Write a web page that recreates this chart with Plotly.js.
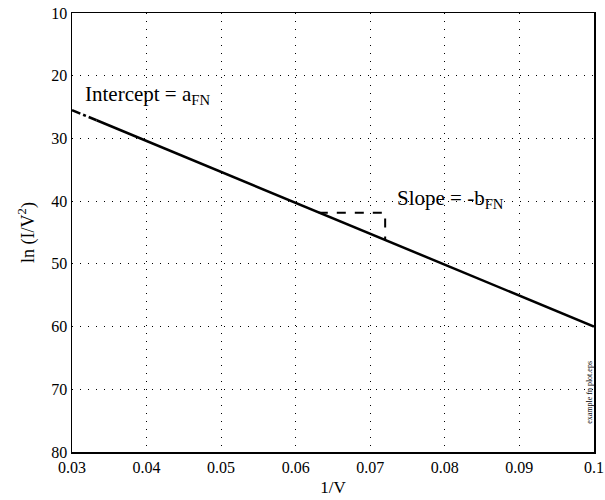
<!DOCTYPE html>
<html><head><meta charset="utf-8">
<script src="https://cdn.plot.ly/plotly-3.0.1.min.js"></script>
<style>body{margin:0;background:#fff}#c{width:605px;height:500px}</style>
</head><body><div id="c"></div>
<script>
// Fowler-Nordheim line data
var extrapX = [0.03, 0.0333];
var extrapY = [25.5, 27.1];
var fitX = [0.0333, 0.1];
var fitY = [27.1, 60.0];
var slopeX = [0.0631, 0.0720, 0.0720];
var slopeY = [41.85, 41.85, 46.3];
var xTicks = [0.03, 0.04, 0.05, 0.06, 0.07, 0.08, 0.09, 0.1];
var xTickText = ["0.03", "0.04", "0.05", "0.06", "0.07", "0.08", "0.09", "0.1"];
var yTicks = [10, 20, 30, 40, 50, 60, 70, 80];

var font = "Liberation Serif, Times New Roman, serif";
var traces = [
  {x: extrapX, y: extrapY, mode: "lines", line: {color: "#000", width: 2.5, dash: "dashdot"}, hoverinfo: "skip"},
  {x: fitX, y: fitY, mode: "lines", line: {color: "#000", width: 2.5}, hoverinfo: "skip"},
  {x: slopeX, y: slopeY, mode: "lines", line: {color: "#000", width: 2, dash: "dash"}, hoverinfo: "skip"}
];
var layout = {
  width: 605, height: 500,
  margin: {l: 72, r: 11, t: 13, b: 48},
  paper_bgcolor: "#fff", plot_bgcolor: "#fff",
  showlegend: false,
  font: {family: font, color: "#000", size: 16},
  xaxis: {
    range: [0.03, 0.10001], tickvals: xTicks, ticktext: xTickText,
    showgrid: true, gridcolor: "#000", griddash: "1px,7px", gridwidth: 1.2,
    zeroline: false, showline: true, linecolor: "#000", linewidth: 1.5, mirror: true,
    ticks: "", tickfont: {family: font, size: 16}, ticklabeloverflow: "allow",
    title: {text: "1/V", font: {family: font, size: 17}, standoff: 6}
  },
  yaxis: {
    range: [80, 10], tickvals: yTicks,
    showgrid: true, gridcolor: "#000", griddash: "1px,7px", gridwidth: 1.2,
    zeroline: false, showline: true, linecolor: "#000", linewidth: 1.5, mirror: true,
    ticks: "", tickfont: {family: font, size: 16},
    title: {text: "ln (I/V<sup>2</sup>)", font: {family: font, size: 18}, standoff: 12}
  },
  annotations: [
    {x: 0.0315, y: 23.0, xref: "x", yref: "y", xanchor: "left", yanchor: "middle", showarrow: false,
     text: "Intercept = a<sub>FN</sub>", font: {family: font, size: 21}},
    {x: 0.0733, y: 39.7, xref: "x", yref: "y", xanchor: "left", yanchor: "middle", showarrow: false,
     text: "Slope = -b<sub>FN</sub>", font: {family: font, size: 21}},
    {x: 0.0994, y: 70.5, xref: "x", yref: "y", xanchor: "center", yanchor: "middle", showarrow: false,
     text: "example fn plot.eps", textangle: -90, font: {family: font, size: 8}}
  ]
};
Plotly.newPlot("c", traces, layout, {displayModeBar: false, staticPlot: true});
</script></body></html>
